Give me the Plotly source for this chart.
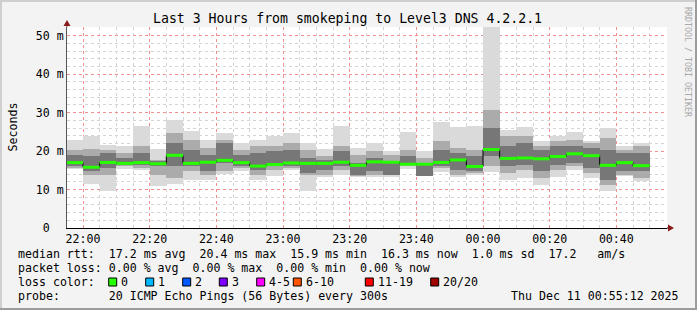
import plotly.graph_objects as go
import pandas as pd

# ---------------- data ----------------
bin_start = pd.date_range("2025-12-10 21:55:00", periods=35, freq="5min")
bin_seconds = 300

median_ms = [17.0, 15.8, 17.05, 16.8, 17.0, 16.7, 18.9, 16.8, 17.1, 17.6,
             17.0, 16.1, 16.5, 16.9, 16.8, 16.8, 17.1, 16.3, 17.2, 17.1,
             16.6, 16.6, 17.05, 17.7, 16.0, 20.4, 18.1, 18.2, 18.0, 18.6,
             19.3, 18.8, 16.3, 17.0, 16.2]
ping_max = [23.0, 23.8, 21.7, 21.4, 26.6, 20.6, 28.2, 25.1, 23.0, 24.7,
            22.1, 23.0, 24.0, 24.7, 22.1, 20.5, 26.6, 20.8, 22.1, 19.9,
            25.0, 20.1, 27.5, 26.3, 26.4, 56.0, 25.4, 26.2, 22.7, 24.0,
            25.0, 22.7, 26.0, 21.2, 22.1]
ping_min = [15.4, 11.4, 9.5, 15.4, 15.0, 10.8, 11.4, 12.6, 12.6, 14.1,
            14.7, 12.6, 13.4, 15.2, 9.5, 13.3, 13.9, 13.3, 13.3, 13.3,
            15.3, 13.4, 14.5, 13.3, 13.9, 14.5, 12.4, 13.0, 11.3, 13.3,
            15.2, 13.0, 9.5, 13.4, 12.1]
inner_hi = [20.4, 20.5, 20.4, 19.5, 21.2, 17.8, 24.7, 23.0, 20.8, 23.0,
            20.4, 21.2, 21.2, 22.1, 20.4, 18.6, 21.2, 19.1, 19.9, 19.1,
            20.4, 18.2, 22.5, 20.8, 20.4, 30.8, 23.8, 23.8, 21.2, 22.5,
            23.0, 22.1, 23.4, 20.4, 21.2]
inner_lo = [15.6, 13.9, 13.9, 16.0, 15.6, 13.9, 13.0, 14.7, 13.9, 14.7,
            15.6, 13.9, 15.2, 15.6, 13.9, 13.9, 15.2, 13.6, 13.9, 13.9,
            16.0, 13.4, 15.6, 13.9, 14.3, 16.0, 14.3, 15.2, 13.0, 15.2,
            16.0, 14.3, 11.3, 13.9, 13.0]
core_hi = [19.1, 18.6, 19.5, 18.2, 19.5, 17.3, 22.1, 20.4, 19.1, 22.1,
           19.1, 19.5, 19.9, 20.4, 18.2, 17.8, 19.9, 16.9, 18.2, 17.5,
           18.6, 17.0, 20.4, 19.5, 18.6, 26.0, 21.2, 22.1, 20.4, 21.2,
           21.2, 20.8, 20.4, 19.5, 19.5]
core_lo = [16.0, 14.9, 15.6, 16.5, 16.5, 16.0, 16.0, 16.0, 14.7, 17.0,
           16.0, 15.2, 16.0, 16.0, 14.3, 15.2, 16.0, 13.9, 14.7, 13.9,
           16.5, 13.4, 16.0, 15.2, 14.7, 18.6, 16.0, 16.5, 14.7, 16.5,
           16.9, 15.6, 12.6, 14.7, 14.7]

y_ticks = [0, 10, 20, 30, 40, 50]
y_ticktext = ["0\u00a0\u00a0", "10 m", "20 m", "30 m", "40 m", "50 m"]

loss_labels = ["0", "1", "2", "3", "4-5", "6-10", "11-19", "20/20"]
loss_colors = ["#26ff00", "#00b8ff", "#0059ff", "#7e00ff", "#ff00ff",
               "#ff5500", "#ff0000", "#a10000"]

title_text = "Last 3 Hours from smokeping to Level3 DNS 4.2.2.1"
legend_lines = [
    "median rtt:  17.2 ms avg  20.4 ms max  15.9 ms min  16.3 ms now  1.0 ms sd  17.2   am/s",
    "packet loss: 0.00 % avg  0.00 % max  0.00 % min  0.00 % now",
    "loss color:",
    "probe:       20 ICMP Echo Pings (56 Bytes) every 300s",
]
stamp_text = "Thu Dec 11 00:55:12 2025"

x_start = pd.Timestamp("2025-12-10 21:55:12")
x_end = pd.Timestamp("2025-12-11 00:55:12")

# ---------------- geometry helpers ----------------
W, H = 697, 310
ML, MR, MT, MB = 67, 30, 27, 82
PW, PH = W - ML - MR, H - MT - MB
Y_TOP = 52.26


def px(xp):
    return (xp - ML) / PW


def py(yp):
    return (H - MB - yp) / PH


MONO = "DejaVu Sans Mono"

fig = go.Figure()

centers = bin_start + pd.Timedelta(seconds=bin_seconds / 2)
bw = bin_seconds * 1000


def band(lo, hi, color):
    fig.add_trace(go.Bar(
        x=centers, y=[h - l for l, h in zip(lo, hi)], base=lo, width=bw,
        marker=dict(color=color, line=dict(width=0)), hoverinfo="skip",
        showlegend=False))


band(ping_min, ping_max, "#dadada")
band(inner_lo, inner_hi, "#ababab")
band(core_lo, core_hi, "#777777")

# black step connecting medians
step_x = list(bin_start) + [bin_start[-1] + pd.Timedelta(seconds=bin_seconds)]
step_y = median_ms + [median_ms[-1]]
fig.add_trace(go.Scatter(x=step_x, y=step_y, mode="lines",
                         line=dict(color="#000000", width=1, shape="hv"),
                         hoverinfo="skip", showlegend=False))

# green median segments
gx, gy = [], []
for s, m in zip(bin_start, median_ms):
    gx += [s, s + pd.Timedelta(seconds=bin_seconds), None]
    gy += [m, m, None]
fig.add_trace(go.Scatter(x=gx, y=gy, mode="lines",
                         line=dict(color=loss_colors[0], width=3),
                         hoverinfo="skip", showlegend=False))

fig.update_layout(
    width=W, height=H,
    margin=dict(l=ML, r=MR, t=MT, b=MB),
    paper_bgcolor="#f3f3f3", plot_bgcolor="#ffffff",
    barmode="overlay", bargap=0,
    font=dict(family=MONO, size=11.6, color="#000000"),
    showlegend=False,
)
fig.update_xaxes(
    type="date", range=[x_start, x_end],
    tickformat="%H:%M", dtick=20 * 60 * 1000,
    tick0="2025-12-10 22:00:00",
    showgrid=True, gridcolor="#f09090", griddash="dot", gridwidth=1,
    minor=dict(dtick=5 * 60 * 1000, showgrid=True, gridcolor="#d4d4d4",
               griddash="dot", gridwidth=1),
    showline=True, linecolor="#000000", linewidth=1,
    ticks="", zeroline=False, tickfont=dict(family=MONO, size=11.6),
)
fig.update_yaxes(
    range=[0, Y_TOP], tickvals=y_ticks, ticktext=y_ticktext,
    showgrid=True, gridcolor="#f09090", griddash="dot", gridwidth=1,
    minor=dict(dtick=2, showgrid=True, gridcolor="#d4d4d4",
               griddash="dot", gridwidth=1),
    showline=True, linecolor="#555555", linewidth=1,
    ticks="", zeroline=False, tickfont=dict(family=MONO, size=11.6),
)

shapes = []
# axis extensions & arrows
shapes.append(dict(type="line", xref="paper", yref="paper",
                   x0=px(67), x1=px(67), y0=py(27), y1=py(22),
                   line=dict(color="#555555", width=1)))
shapes.append(dict(type="path", xref="paper", yref="paper",
                   path=f"M {px(63.5)} {py(26)} L {px(70.5)} {py(26)} L {px(67)} {py(20)} Z",
                   fillcolor="#8b1a1a", line=dict(width=0)))
shapes.append(dict(type="line", xref="paper", yref="paper",
                   x0=px(667), x1=px(670), y0=py(228), y1=py(228),
                   line=dict(color="#000000", width=1)))
shapes.append(dict(type="path", xref="paper", yref="paper",
                   path=f"M {px(668)} {py(224.5)} L {px(668)} {py(231.5)} L {px(674)} {py(228)} Z",
                   fillcolor="#8b1a1a", line=dict(width=0)))
# outer frame
shapes.append(dict(type="rect", xref="paper", yref="paper",
                   x0=px(0), x1=px(W), y0=py(0), y1=py(2),
                   fillcolor="#cfcfcf", line=dict(width=0)))
shapes.append(dict(type="rect", xref="paper", yref="paper",
                   x0=px(0), x1=px(2), y0=py(0), y1=py(H),
                   fillcolor="#cfcfcf", line=dict(width=0)))
shapes.append(dict(type="rect", xref="paper", yref="paper",
                   x0=px(0), x1=px(W), y0=py(H - 2), y1=py(H),
                   fillcolor="#9c9c9c", line=dict(width=0)))
shapes.append(dict(type="rect", xref="paper", yref="paper",
                   x0=px(W - 2), x1=px(W), y0=py(0), y1=py(H),
                   fillcolor="#9c9c9c", line=dict(width=0)))

# loss color boxes
box_x = [108.7, 145.7, 182.7, 219.3, 256.7, 293.3, 365.3, 430.7]
annotations = []
for bx, lab, col in zip(box_x, loss_labels, loss_colors):
    shapes.append(dict(type="rect", xref="paper", yref="paper",
                       x0=px(bx), x1=px(bx + 8), y0=py(278), y1=py(286),
                       fillcolor=col, line=dict(color="#000000", width=1)))
    annotations.append(dict(xref="paper", yref="paper", x=px(bx + 10.5),
                            y=py(282), xanchor="left", yanchor="middle",
                            text=lab, showarrow=False,
                            font=dict(family=MONO, size=11.6)))

annotations.append(dict(xref="paper", yref="paper", x=px(347.5), y=py(19),
                        xanchor="center", yanchor="middle", text=title_text,
                        showarrow=False, font=dict(family=MONO, size=13.2)))
annotations.append(dict(xref="paper", yref="paper", x=px(12), y=py(127.5),
                        xanchor="center", yanchor="middle", text="Seconds",
                        textangle=-90, showarrow=False,
                        font=dict(family=MONO, size=11.6)))
annotations.append(dict(xref="paper", yref="paper", x=px(688), y=py(5),
                        xanchor="center", yanchor="top",
                        text="RRDTOOL / TOBI OETIKER", textangle=90,
                        showarrow=False,
                        font=dict(family=MONO, size=8.3, color="#a8a8a8")))
for i, line in enumerate(legend_lines):
    annotations.append(dict(xref="paper", yref="paper", x=px(15.5),
                            y=py(254 + 13.9 * i), xanchor="left",
                            yanchor="middle",
                            text=line.replace(" ", "\u00a0"), showarrow=False,
                            font=dict(family=MONO, size=11.6)))
annotations.append(dict(xref="paper", yref="paper", x=px(681), y=py(295.7),
                        xanchor="right", yanchor="middle", text=stamp_text.replace(" ", "\u00a0"),
                        showarrow=False, font=dict(family=MONO, size=11.6)))

fig.update_layout(shapes=shapes, annotations=annotations)
fig.write_html("out.html")
